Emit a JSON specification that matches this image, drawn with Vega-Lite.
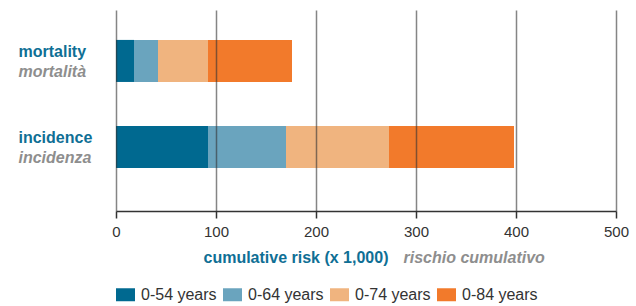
{
  "$schema": "https://vega.github.io/schema/vega-lite/v6.json",
  "width": 500,
  "height": 201,
  "padding": {"left": 18, "top": 10, "right": 20, "bottom": 0},
  "background": "white",
  "config": {"font": "Liberation Sans", "view": {"stroke": null}},
  "data": {
    "values": [
      {"measure": "mortality", "age": "0-84 years", "risk": 176},
      {"measure": "mortality", "age": "0-74 years", "risk": 92},
      {"measure": "mortality", "age": "0-64 years", "risk": 42},
      {"measure": "mortality", "age": "0-54 years", "risk": 18},
      {"measure": "incidence", "age": "0-84 years", "risk": 398},
      {"measure": "incidence", "age": "0-74 years", "risk": 273},
      {"measure": "incidence", "age": "0-64 years", "risk": 170},
      {"measure": "incidence", "age": "0-54 years", "risk": 92}
    ]
  },
  "layer": [
    {
      "mark": {"type": "bar"},
      "encoding": {
        "y": {
          "field": "measure", "type": "nominal", "sort": ["mortality", "incidence"],
          "scale": {"paddingInner": 0.512, "paddingOuter": 0.424, "align": 0.41},
          "axis": {
            "orient": "left", "title": null, "domain": false, "ticks": false, "grid": false,
            "labelAlign": "left", "labelPadding": 98, "labelBaseline": "alphabetic", "labelOffset": -4,
            "labelFontSize": 16, "labelFontWeight": "bold", "labelColor": "#0f6f95"
          }
        },
        "x": {
          "field": "risk", "type": "quantitative", "stack": null,
          "scale": {"domain": [0, 500]},
          "axis": {
            "orient": "bottom", "values": [0, 100, 200, 300, 400, 500],
            "grid": true, "gridColor": "#333", "gridOpacity": 0.6, "gridWidth": 1.5,
            "domainColor": "#333", "domainWidth": 1.5, "tickColor": "#333", "tickWidth": 1.5, "tickSize": 7,
            "labelFontSize": 15, "labelColor": "#333", "labelPadding": 6, "labelFlush": false,
            "title": "cumulative risk (x 1,000)", "titleFontSize": 16, "titleColor": "#0f6f95",
            "titleFontWeight": "bold", "titleAnchor": "start", "titleAlign": "left",
            "titleX": 87, "titleY": 51, "titleBaseline": "alphabetic", "zindex": 1
          }
        },
        "color": {
          "field": "age", "type": "nominal",
          "scale": {
            "domain": ["0-54 years", "0-64 years", "0-74 years", "0-84 years"],
            "range": ["#006990", "#6aa4be", "#f0b47f", "#f27a2b"]
          },
          "legend": {
            "orient": "bottom", "direction": "horizontal", "title": null,
            "symbolType": "M-1,-0.684H1V0.684H-1Z", "symbolSize": 361, "symbolStrokeWidth": 0,
            "symbolOpacity": 1, "labelFontSize": 16, "labelColor": "#333", "labelOffset": 6,
            "columnPadding": 6, "offset": 20
          }
        }
      }
    },
    {
      "mark": {"type": "bar", "opacity": 0},
      "encoding": {
        "y": {
          "field": "measure", "type": "nominal", "sort": ["mortality", "incidence"],
          "axis": {
            "orient": "left", "title": null, "domain": false, "ticks": false, "grid": false,
            "labelAlign": "left", "labelPadding": 98, "labelBaseline": "alphabetic", "labelOffset": 16,
            "labelFontSize": 16, "labelFontWeight": "bold", "labelFontStyle": "italic", "labelColor": "#8e8e8e",
            "labelExpr": "datum.value == 'mortality' ? 'mortalità' : 'incidenza'"
          }
        },
        "x": {
          "field": "risk", "type": "quantitative", "stack": null,
          "axis": {
            "orient": "bottom", "labels": false, "ticks": false, "domain": false, "grid": false,
            "title": "rischio cumulativo", "titleFontSize": 16, "titleColor": "#8e8e8e",
            "titleFontWeight": "bold", "titleFontStyle": "italic", "titleAnchor": "start", "titleAlign": "left",
            "titleX": 287, "titleY": 51, "titleBaseline": "alphabetic"
          }
        }
      }
    }
  ],
  "resolve": {"axis": {"x": "independent", "y": "independent"}}
}
